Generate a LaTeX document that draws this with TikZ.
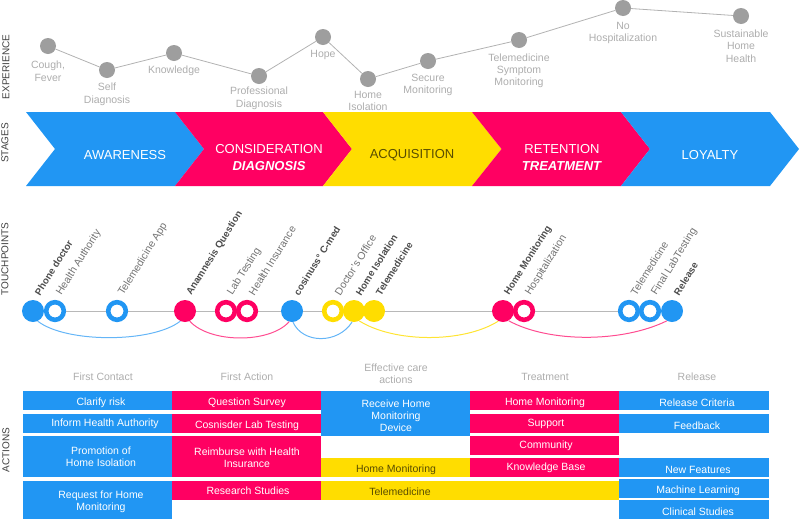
\documentclass[tikz,border=0pt]{standalone}
\usepackage{fontspec}
\setmainfont{Liberation Sans}
\usetikzlibrary{
    positioning
}
\definecolor{nice blue}{HTML}{2196F3}
\definecolor{nice pink}{HTML}{FF0062}
\definecolor{nice yellow}{HTML}{FFDD00}
\definecolor{nice gray}{HTML}{9E9E9E}
\tikzset{
    % Text
    side title/.style={rotate=90,text=black!75,font=\fontsize{10}{12}\selectfont},
    mood label/.style={align=center,yshift=-1.2pt,text=black!32,font=\fontsize{10.5}{12.4}\selectfont,inner sep=0pt},
    column title/.style={mood label},
    stage label/.style={text=#1,align=center,yshift=-1pt,font=\fontsize{13}{17}\selectfont,inner sep=0pt},
    stage label/.default=white,
    action label/.style={text=#1,align=center,yshift=-1.2pt,font=\fontsize{10.5}{12.4}\selectfont,inner sep=0pt},
    %
    % Points
    mood point/.style={circle,fill=nice gray,inner sep=0pt,minimum size=16pt},
    filled point/.style={circle,fill=#1,inner sep=0pt,minimum size=22pt},
    ring point/.style={circle,draw=#1,fill=white,line width=4.6pt,inner sep=0pt,minimum size=17.6pt},
    filled label/.style={rotate=58,anchor=west,inner sep=0pt,text=black!70,font=\bfseries\fontsize{9.7}{12}\selectfont},
    ring label/.style={rotate=58,anchor=west,inner sep=0pt,text=black!55,font=\fontsize{10.5}{12}\selectfont},
    %
    % Lines
    mood line/.style={draw=black!30,line width=.8pt},
    touch line/.style={draw=black!28,line width=1pt},
    touch arc/.style={draw=#1,line width=1pt},
}
\begin{document}
\begin{tikzpicture}[x=1pt,y=-1pt]
    \useasboundingbox (0,0) rectangle (800,520);
    % Side titles
    \node[side title] (experience title) at (6,67) {EXPERIENCE};
    \node[side title] (stages title) at (5,143) {STAGES};
    \node[side title] (touchpoints title) at (5,259) {TOUCHPOINTS};
    \node[side title] (actions title) at (6,450) {ACTIONS};
    %
    % Experience
    \foreach \name/\x/\y/\ty/\txt in {
        cough/48/46/70/{Cough,\\Fever},
        self/107/70/93/{Self\\Diagnosis},
        knowledge/174/53/70/{Knowledge},
        professional/259/76/97/{Professional\\Diagnosis},
        hope/323/37/54/{Hope},
        isolation/368/79/100/{Home\\Isolation},
        secure/428/61/84/{Secure\\Monitoring},
        symptom/519/40/69.5/{Telemedicine\\Symptom\\Monitoring},
        nohosp/623/8/32/{No\\Hospitalization},
        sustainable/741/16/45/{Sustainable\\Home\\Health}}{
        \node[mood point] (\name) at (\x,\y) {};
        \node[mood label] (\name label) at (\x,\ty) {\txt};
    }
    \foreach \a/\b in {cough/self,self/knowledge,knowledge/professional,professional/hope,hope/isolation,isolation/secure,secure/symptom,symptom/nohosp,nohosp/sustainable}{
        \draw[mood line] (\a) -- (\b);
    }
    %
    % Stages
    \fill[nice blue] (26,112) -- (175,112) -- (204,149) -- (175,186) -- (26,186) -- (55,149) -- cycle;
    \fill[nice pink] (175,112) -- (323,112) -- (352,149) -- (323,186) -- (175,186) -- (204,149) -- cycle;
    \fill[nice yellow] (323,112) -- (472,112) -- (501.5,149) -- (472,186) -- (323,186) -- (352,149) -- cycle;
    \fill[nice pink] (472,112) -- (621,112) -- (650,149) -- (621,186) -- (472,186) -- (501.5,149) -- cycle;
    \fill[nice blue] (621,112) -- (770,112) -- (799,149) -- (770,186) -- (621,186) -- (650,149) -- cycle;
    \node[stage label] (awareness) at (125,154) {AWARENESS};
    \node[stage label] (consideration) at (269,156.5) {CONSIDERATION\\\textbf{\textit{DIAGNOSIS}}};
    \node[stage label=black!65!nice yellow] (acquisition) at (412,154) {ACQUISITION};
    \node[stage label] (retention) at (562,156.5) {RETENTION\\\textbf{\textit{TREATMENT}}};
    \node[stage label] (loyalty) at (710,154) {LOYALTY};
    %
    % Touchpoints
    \foreach \name/\x/\kind/\col/\txt in {
        phone/33/filled/nice blue/{Phone doctor},
        authority/55/ring/nice blue/{Health Authority},
        app/117/ring/nice blue/{Telemedicine App},
        anamnesis/185/filled/nice pink/{Anamnesis Question},
        lab/226/ring/nice pink/{Lab Testing},
        insurance/247/ring/nice pink/{Health Insurance},
        cosinuss/292/filled/nice blue/{cosinuss° C-med},
        office/333/ring/nice yellow/{Doctor's Office},
        homeiso/354/filled/nice yellow/{Home Isolation},
        telemed/374/filled/nice yellow/{Telemedicine},
        monitoring/503/filled/nice pink/{Home Monitoring},
        hospital/524/ring/nice pink/{Hospitalization},
        teleback/629/ring/nice blue/{Telemedicine},
        final/650/ring/nice blue/{Final LabTesting},
        release/672/filled/nice blue/{Release}}{
        \node[\kind\space point=\col] (\name) at (\x,311) {};
        \node[\kind\space label] (\name label) at (\x+4,294.5) {\txt};
    }
    \foreach \a/\b in {authority/app,app/anamnesis,anamnesis/lab,insurance/cosinuss,cosinuss/office,telemed/monitoring,hospital/teleback}{
        \draw[touch line] (\a) -- (\b);
    }
    \draw[touch arc=nice blue!70] (phone.-65) .. controls +(28,22) and +(-28,22) .. (anamnesis.-115);
    \draw[touch arc=nice pink!70] (anamnesis.-65) .. controls +(20,22) and +(-20,22) .. (cosinuss.-105);
    \draw[touch arc=nice blue!70] (cosinuss.-85) .. controls +(10,22) and +(-14,22) .. (homeiso.-100);
    \draw[touch arc=nice yellow!80] (homeiso.-62) .. controls +(35,22) and +(-35,22) .. (monitoring.-115);
    \draw[touch arc=nice pink!70] (monitoring.-60) .. controls +(40,22) and +(-45,22) .. (release.-118);
    %
    % Actions
    \foreach \name/\x/\y/\txt in {
        contact/103/376/{First Contact},
        action/247/376/{First Action},
        care/396/372.5/{Effective care\\actions},
        treatment/545/376/{Treatment},
        releasecol/697/376/{Release}}{
        \node[column title] (\name title) at (\x,\y) {\txt};
    }
    \foreach \name/\xa/\ya/\xb/\yb/\col/\tx/\ty/\tcol/\txt in {
        clarify/23/391/172/410/nice blue/101/402/white/{Clarify risk},
        inform/23/413.5/172/432.5/nice blue/105/423/white/{Inform Health Authority},
        promotion/23/435.5/172/477/nice blue/101/455.5/white/{Promotion of\\Home Isolation},
        request/23/480.5/172/519/nice blue/101/500.5/white/{Request for Home\\Monitoring},
        question/172/391/321/410/nice pink/247/402/white/{Question Survey},
        consider/172/413.5/321/432.5/nice pink/247/425/white/{Cosnisder Lab Testing},
        reimburse/172/435.5/321/477/nice pink/247/456.5/white/{Reimburse with Health\\Insurance},
        research/172/480.5/321/499.5/nice pink/248/490/white/{Research Studies},
        device/321/391/470/436/nice blue/396/414.5/white/{Receive Home\\Monitoring\\Device},
        homemon/321/457.5/470/477/nice yellow/396/469/black!65!nice yellow/{Home Monitoring},
        telebar/321/480.5/619/499.5/nice yellow/400/491/black!65!nice yellow/{Telemedicine},
        monbox/470/391/619/410/nice pink/545/402/white/{Home Monitoring},
        support/470/413.5/619/432.5/nice pink/546/423/white/{Support},
        community/470/435.5/619/454.5/nice pink/546/445/white/{Community},
        knowbase/470/458/619/477/nice pink/546/467/white/{Knowledge Base},
        criteria/619/391/769/410/nice blue/697/402/white/{Release Criteria},
        feedback/619/413.5/769/432.5/nice blue/697/425/white/{Feedback},
        features/619/458/769/477/nice blue/698/469/white/{New Features},
        learning/619/479/769/498/nice blue/698/490/white/{Machine Learning},
        clinical/619/500/769/519/nice blue/698/511/white/{Clinical Studies}}{
        \fill[\col] (\xa,\ya) rectangle (\xb,\yb);
        \node[action label=\tcol] (\name) at (\tx,\ty) {\txt};
    }
\end{tikzpicture}
\end{document}
